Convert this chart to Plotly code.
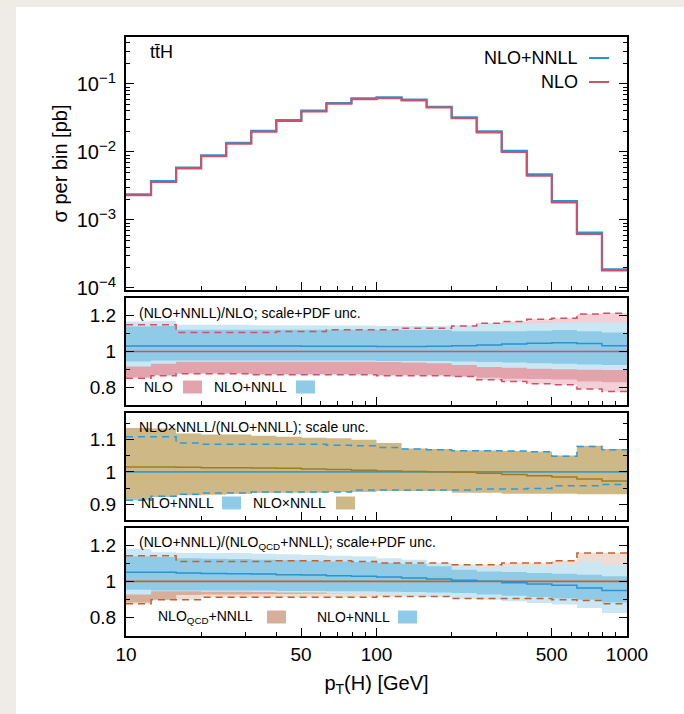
import plotly.graph_objects as go

# ---------------- data ----------------
edges = [10, 12.59, 15.85, 19.95, 25.12, 31.62, 39.81, 50.12, 63.10, 79.43, 100,
         125.9, 158.5, 199.5, 251.2, 316.2, 398.1, 501.2, 631.0, 794.3, 1000]

sigma_nnll = [2.37e-3, 3.72e-3, 5.86e-3, 8.93e-3, 1.36e-2, 2.04e-2, 2.94e-2, 4.04e-2, 5.24e-2, 6.14e-2,
              6.35e-2, 5.87e-2, 4.62e-2, 3.22e-2, 2.00e-2, 1.04e-2, 4.68e-3, 1.89e-3, 6.50e-4, 1.87e-4]
sigma_nlo = [2.30e-3, 3.61e-3, 5.69e-3, 8.67e-3, 1.32e-2, 1.98e-2, 2.85e-2, 3.92e-2, 5.09e-2, 5.96e-2,
             6.16e-2, 5.70e-2, 4.49e-2, 3.12e-2, 1.93e-2, 1.00e-2, 4.48e-3, 1.80e-3, 6.20e-4, 1.81e-4]

# panel 2: (NLO+NNLL)/NLO
p2_nlo_tot_up = [1.147, 1.147, 1.105, 1.105, 1.105, 1.105, 1.110, 1.110, 1.120, 1.120,
                 1.120, 1.128, 1.128, 1.141, 1.156, 1.165, 1.178, 1.183, 1.207, 1.211]
p2_nlo_tot_dn = [0.853, 0.866, 0.877, 0.877, 0.877, 0.872, 0.872, 0.872, 0.872, 0.872,
                 0.866, 0.866, 0.866, 0.862, 0.844, 0.835, 0.822, 0.817, 0.793, 0.780]
p2_nlo_sc_up = [1.100, 1.100, 1.090, 1.090, 1.090, 1.090, 1.090, 1.090, 1.095, 1.095,
                1.100, 1.100, 1.100, 1.110, 1.120, 1.120, 1.125, 1.130, 1.140, 1.140]
p2_nlo_sc_dn = [0.858, 0.870, 0.880, 0.880, 0.880, 0.876, 0.876, 0.876, 0.876, 0.876,
                0.870, 0.870, 0.870, 0.862, 0.855, 0.850, 0.848, 0.845, 0.835, 0.830]
p2_res_c = [1.031, 1.031, 1.031, 1.031, 1.030, 1.030, 1.030, 1.029, 1.029, 1.029,
            1.028, 1.027, 1.029, 1.032, 1.036, 1.041, 1.046, 1.048, 1.044, 1.032]
p2_res_sc_up = [1.138, 1.141, 1.120, 1.120, 1.120, 1.120, 1.120, 1.120, 1.120, 1.120,
                1.118, 1.118, 1.118, 1.112, 1.112, 1.112, 1.115, 1.118, 1.112, 1.105]
p2_res_sc_dn = [0.945, 0.950, 0.950, 0.950, 0.950, 0.950, 0.950, 0.950, 0.950, 0.950,
                0.948, 0.948, 0.948, 0.945, 0.942, 0.940, 0.935, 0.932, 0.928, 0.925]
p2_res_tot_up = [1.165, 1.169, 1.147, 1.147, 1.147, 1.145, 1.145, 1.145, 1.143, 1.143,
                 1.141, 1.141, 1.141, 1.145, 1.150, 1.152, 1.155, 1.158, 1.160, 1.160]
p2_res_tot_dn = [0.917, 0.932, 0.944, 0.944, 0.944, 0.944, 0.944, 0.944, 0.944, 0.944,
                 0.942, 0.940, 0.935, 0.925, 0.915, 0.910, 0.905, 0.902, 0.900, 0.898]

# panel 3: NLOxNNLL/(NLO+NNLL), scale unc.
p3_mult_c = [1.015, 1.015, 1.014, 1.013, 1.013, 1.012, 1.011, 1.009, 1.007, 1.005,
             1.003, 1.001, 1.000, 0.999, 0.996, 0.992, 0.988, 0.984, 0.978, 0.972]
p3_mult_up = [1.135, 1.133, 1.118, 1.115, 1.115, 1.111, 1.108, 1.105, 1.103, 1.099,
              1.089, 1.072, 1.070, 1.066, 1.066, 1.064, 1.062, 1.050, 1.080, 1.070]
p3_mult_dn = [0.918, 0.923, 0.928, 0.930, 0.933, 0.935, 0.936, 0.936, 0.938, 0.938,
              0.941, 0.941, 0.941, 0.936, 0.936, 0.933, 0.933, 0.933, 0.931, 0.931]
p3_add_up = [1.108, 1.108, 1.089, 1.085, 1.085, 1.085, 1.085, 1.085, 1.082, 1.080,
             1.075, 1.070, 1.068, 1.065, 1.065, 1.064, 1.062, 1.048, 1.078, 1.068]
p3_add_dn = [0.913, 0.925, 0.931, 0.935, 0.935, 0.938, 0.938, 0.938, 0.938, 0.944,
             0.944, 0.944, 0.944, 0.944, 0.947, 0.947, 0.949, 0.957, 0.957, 0.961]

# panel 4: (NLO+NNLL)/(NLO_QCD+NNLL)
p4_res_c = [1.050, 1.050, 1.046, 1.044, 1.042, 1.040, 1.037, 1.035, 1.031, 1.028,
            1.024, 1.018, 1.013, 1.006, 1.000, 0.993, 0.985, 0.978, 0.963, 0.949]
p4_res_tot_up = [1.178, 1.160, 1.156, 1.156, 1.156, 1.152, 1.149, 1.145, 1.141, 1.138,
                 1.128, 1.119, 1.101, 1.083, 1.079, 1.083, 1.086, 1.092, 1.110, 1.092]
p4_res_sc_up = [1.138, 1.134, 1.128, 1.125, 1.123, 1.119, 1.116, 1.112, 1.110, 1.106,
                1.101, 1.095, 1.083, 1.064, 1.055, 1.051, 1.046, 1.042, 1.037, 1.028]
p4_res_sc_dn = [0.954, 0.950, 0.950, 0.949, 0.949, 0.949, 0.947, 0.947, 0.945, 0.945,
                0.943, 0.941, 0.939, 0.936, 0.928, 0.921, 0.914, 0.906, 0.899, 0.884]
p4_res_tot_dn = [0.927, 0.945, 0.945, 0.943, 0.943, 0.941, 0.939, 0.939, 0.936, 0.932,
                 0.927, 0.921, 0.914, 0.906, 0.899, 0.890, 0.881, 0.872, 0.853, 0.826]
p4_qcd_tot_up = [1.141, 1.141, 1.110, 1.110, 1.110, 1.110, 1.114, 1.114, 1.114, 1.110,
                 1.101, 1.101, 1.101, 1.092, 1.092, 1.101, 1.101, 1.114, 1.156, 1.156]
p4_qcd_tot_dn = [0.877, 0.899, 0.899, 0.912, 0.912, 0.912, 0.912, 0.912, 0.912, 0.912,
                 0.917, 0.917, 0.917, 0.905, 0.905, 0.905, 0.905, 0.899, 0.895, 0.877]
p4_qcd_sc_up = [1.080, 1.080, 1.075, 1.075, 1.075, 1.075, 1.075, 1.075, 1.075, 1.075,
                1.070, 1.070, 1.070, 1.065, 1.065, 1.065, 1.065, 1.070, 1.075, 1.075]
p4_qcd_sc_dn = [0.884, 0.899, 0.925, 0.927, 0.927, 0.929, 0.930, 0.932, 0.934, 0.936,
                0.938, 0.938, 0.938, 0.936, 0.934, 0.932, 0.930, 0.928, 0.926, 0.924]

x_tickvals = [10, 50, 100, 500, 1000]
x_ticktext = ["10", "50", "100", "500", "1000"]

# ---------------- styling ----------------
W, H = 684, 714
L, R, T, B = 126, 57, 37, 78
PW, PH = W - L - R, H - T - B
FONT = "Liberation Sans, Arial, Helvetica, sans-serif"

def fx(p):
    return (p - L) / PW

def fy(p):
    return (H - B - p) / PH

C_BLUE = "#2a93d2"
C_RED = "#d24f68"
C_PINK_D = "#e3a3ad"
C_PINK_L = "#f2d0d6"
C_BLUE_D = "#8fcbe6"
C_BLUE_L = "#cbe7f3"
C_KHAKI = "#cdb886"
C_KHAKI_LINE = "#a07d1c"
C_TAN_D = "#d7ae9a"
C_TAN_L = "#efdcd2"
C_BROWN = "#c0622f"

fig = go.Figure()

def step(v):
    return list(v) + [v[-1]]

def add_line(v, color, width, ax, dash=None):
    fig.add_trace(go.Scatter(x=edges, y=step(v), mode="lines",
                             line=dict(color=color, width=width, shape="hv", dash=dash),
                             xaxis="x" + ax, yaxis="y" + ax, hoverinfo="skip", showlegend=False))

def add_band(lo, hi, color, ax):
    fig.add_trace(go.Scatter(x=edges, y=step(lo), mode="lines",
                             line=dict(color=color, width=0, shape="hv"),
                             xaxis="x" + ax, yaxis="y" + ax, hoverinfo="skip", showlegend=False))
    fig.add_trace(go.Scatter(x=edges, y=step(hi), mode="lines", fill="tonexty", fillcolor=color,
                             line=dict(color=color, width=0, shape="hv"),
                             xaxis="x" + ax, yaxis="y" + ax, hoverinfo="skip", showlegend=False))

ones = [1.0] * 20
DASH = "7px,5px"

# panel 1
add_line(sigma_nnll, C_BLUE, 2.2, "")
add_line(sigma_nlo, C_RED, 2.0, "")

# panel 2
add_band(p2_nlo_tot_dn, p2_nlo_tot_up, C_PINK_L, "2")
add_band(p2_nlo_sc_dn, p2_nlo_sc_up, C_PINK_D, "2")
add_band(p2_res_tot_dn, p2_res_tot_up, C_BLUE_L, "2")
add_band(p2_res_sc_dn, p2_res_sc_up, C_BLUE_D, "2")
add_line(ones, C_RED, 1.6, "2")
add_line(p2_res_c, C_BLUE, 1.5, "2")
add_line(p2_nlo_tot_up, C_RED, 1.5, "2", DASH)
add_line(p2_nlo_tot_dn, C_RED, 1.5, "2", DASH)

# panel 3
add_band(p3_add_dn, p3_add_up, C_BLUE_D, "3")
add_band(p3_mult_dn, p3_mult_up, C_KHAKI, "3")
add_line(ones, "#3b9cc8", 1.6, "3")
add_line(p3_mult_c, C_KHAKI_LINE, 1.5, "3")
add_line(p3_add_up, "#2e9bd6", 1.5, "3", DASH)
add_line(p3_add_dn, "#2e9bd6", 1.5, "3", DASH)

# panel 4
add_band(p4_qcd_tot_dn, p4_qcd_tot_up, C_TAN_L, "4")
add_band(p4_qcd_sc_dn, p4_qcd_sc_up, C_TAN_D, "4")
add_band(p4_res_tot_dn, p4_res_tot_up, C_BLUE_L, "4")
add_band(p4_res_sc_dn, p4_res_sc_up, C_BLUE_D, "4")
add_line(ones, C_BROWN, 1.6, "4")
add_line(p4_res_c, C_BLUE, 1.5, "4")
add_line(p4_qcd_tot_up, C_BROWN, 1.5, "4", DASH)
add_line(p4_qcd_tot_dn, C_BROWN, 1.5, "4", DASH)

# ---------------- axes ----------------
x_minor = [20, 30, 40, 60, 70, 80, 90, 200, 300, 400, 600, 700, 800, 900]
tickfont = dict(family=FONT, size=19, color="black")

def xaxis(anchor, labels):
    d = dict(domain=[0, 1], anchor=anchor, type="log", range=[1, 3],
             showline=True, linewidth=2, linecolor="black", mirror=True,
             ticks="inside", ticklen=8, tickwidth=1.2, tickcolor="black",
             tickvals=x_tickvals, ticktext=x_ticktext, showticklabels=labels,
             minor=dict(tickvals=x_minor, ticks="inside", ticklen=4, tickwidth=1.2, tickcolor="black"),
             showgrid=False, zeroline=False, tickfont=tickfont)
    if anchor != "y4":
        d["matches"] = "x4"
    return d

def yratio(domain, anchor, rng, major, minor):
    return dict(domain=domain, anchor=anchor, range=rng, showline=True, linewidth=2,
                linecolor="black", mirror="ticks", ticks="inside", ticklen=8, tickwidth=1.2,
                tickcolor="black", tickvals=major, ticktext=[("%g" % v) for v in major],
                minor=dict(tickvals=minor, ticks="inside", ticklen=4, tickwidth=1.2, tickcolor="black"),
                showgrid=False, zeroline=False, tickfont=tickfont, ticklabelstandoff=4)

y_major = [1e-4, 1e-3, 1e-2, 1e-1]
y_exp = ["\u22124", "\u22123", "\u22122", "\u22121"]
y_major_text = ["10<sup><span style='font-size:15px'>%s</span></sup>" % e for e in y_exp]
y_minor = [m * d for d in (1e-5, 1e-4, 1e-3, 1e-2, 1e-1) for m in range(2, 10)]

fig.update_layout(
    width=W, height=H,
    margin=dict(l=L, r=R, t=T, b=B, pad=0),
    paper_bgcolor="white", plot_bgcolor="white",
    showlegend=False,
    font=dict(family=FONT, color="black"),
    xaxis=xaxis("y", False),
    xaxis2=xaxis("y2", False),
    xaxis3=xaxis("y3", False),
    xaxis4=dict(xaxis("y4", True),
                title=dict(text="p<sub>T</sub>(H) [GeV]", font=dict(family=FONT, size=20), standoff=12)),
    yaxis=dict(domain=[fy(290), 1], anchor="x", type="log", range=[-4.03, -0.31],
               showline=True, linewidth=2, linecolor="black", mirror="ticks",
               ticks="inside", ticklen=8, tickwidth=1.2, tickcolor="black",
               tickvals=y_major, ticktext=y_major_text,
               minor=dict(tickvals=y_minor, ticks="inside", ticklen=4, tickwidth=1.2, tickcolor="black"),
               showgrid=False, zeroline=False, tickfont=dict(family=FONT, size=20, color="black"),
               ticklabelstandoff=4,
               title=dict(text="\u03c3 per bin [pb]", font=dict(family=FONT, size=20), standoff=4)),
    yaxis2=yratio([fy(405), fy(298)], "x2", [0.705, 1.295], [0.8, 1.0, 1.2], [0.9, 1.1]),
    yaxis3=yratio([fy(520), fy(413)], "x3", [0.852, 1.181], [0.9, 1.0, 1.1], [0.95, 1.05, 1.15]),
    yaxis4=yratio([0, fy(528)], "x4", [0.699, 1.294], [0.8, 1.0, 1.2], [0.9, 1.1]),
)

# ---------------- background strips ----------------
BEIGE = "#efece5"
shapes = [
    dict(type="rect", xref="paper", yref="paper", x0=fx(0), x1=fx(16), y0=fy(H), y1=fy(0),
         fillcolor=BEIGE, line=dict(width=0), layer="below"),
    dict(type="rect", xref="paper", yref="paper", x0=fx(0), x1=fx(W), y0=fy(7), y1=fy(0),
         fillcolor=BEIGE, line=dict(width=0), layer="below"),
]

annotations = []

def text(s, x, y, size, xanchor="left"):
    annotations.append(dict(text=s, x=fx(x), y=fy(y), xref="paper", yref="paper",
                            xanchor=xanchor, yanchor="middle", showarrow=False,
                            font=dict(family=FONT, size=size, color="black")))

def swatch(x0, y, color, w=19, h=13):
    shapes.append(dict(type="rect", xref="paper", yref="paper", x0=fx(x0), x1=fx(x0 + w),
                       y0=fy(y + h / 2), y1=fy(y - h / 2), fillcolor=color, line=dict(width=0)))

def legline(x0, x1, y, color):
    shapes.append(dict(type="line", xref="paper", yref="paper", x0=fx(x0), x1=fx(x1),
                       y0=fy(y), y1=fy(y), line=dict(color=color, width=2)))

# top panel
text("tt\u0304H", 148, 52, 18)
text("NLO+NNLL", 580, 58, 18, "right")
legline(589, 609, 58, C_BLUE)
text("NLO", 580, 82, 18, "right")
legline(589, 609, 82, C_RED)

# panel 2
text("(NLO+NNLL)/NLO; scale+PDF unc.", 137, 313, 14)
text("NLO", 142, 387, 14)
swatch(183, 387, C_PINK_D)
text("NLO+NNLL", 212, 387, 14)
swatch(296, 387, C_BLUE_D)

# panel 3
text("NLO\u00d7NNLL/(NLO+NNLL); scale unc.", 137, 427, 14)
text("NLO+NNLL", 139, 503, 14)
swatch(222, 503, C_BLUE_D)
text("NLO\u00d7NNLL", 251, 503, 14)
swatch(336, 503, C_KHAKI)

# panel 4
text("(NLO+NNLL)/(NLO<sub>QCD</sub>+NNLL); scale+PDF unc.", 137, 543, 14)
text("NLO<sub>QCD</sub>+NNLL", 156, 617, 14)
swatch(267, 617, C_TAN_D)
text("NLO+NNLL", 315, 617, 14)
swatch(398, 617, C_BLUE_D)

fig.update_layout(shapes=shapes, annotations=annotations)
fig.write_html("out.html")
